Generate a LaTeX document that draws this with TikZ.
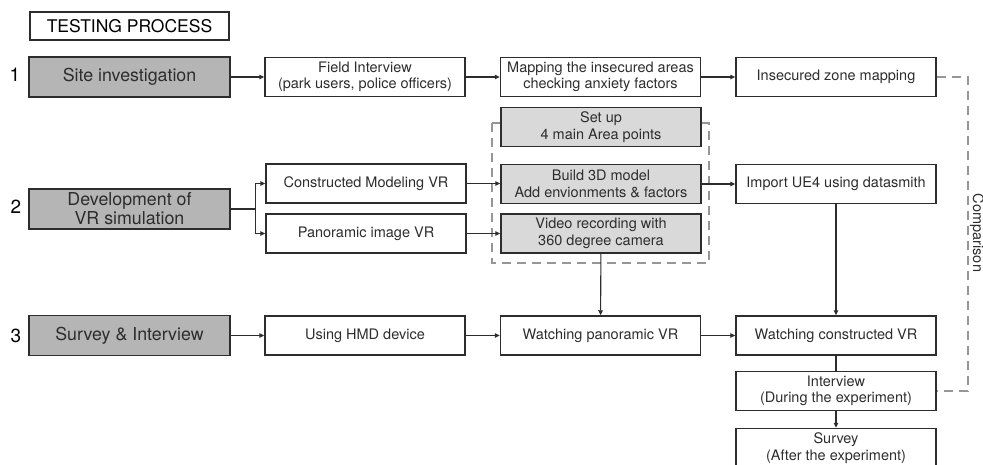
\documentclass[tikz,border=0pt]{standalone}
\usepackage{fontspec}
\setmainfont{TeX Gyre Heros}
\usetikzlibrary{positioning,arrows.meta}

\definecolor{stepgray}{RGB}{181,181,181}
\definecolor{subgray}{RGB}{217,217,217}
\definecolor{inkgray}{RGB}{45,45,45}
\definecolor{dashgray}{RGB}{150,150,150}

\tikzset{
  box/.style={draw=inkgray, line width=1.5pt, minimum width=200pt, minimum height=39pt,
    inner sep=0pt, align=center, text=inkgray, font=\fontsize{14.5}{16.5}\selectfont},
  mainbox/.style={box, fill=stepgray, minimum width=201pt, minimum height=40pt,
    font=\fontsize{17.8}{19}\selectfont},
  subbox/.style={box, fill=subgray},
  num/.style={font=\fontsize{19}{19}\selectfont, text=black},
  link/.style={->, line width=1.1pt, draw=inkgray},
  plain/.style={line width=1.1pt, draw=inkgray},
  cmp/.style={draw=dashgray, line width=1.4pt, dash pattern=on 9pt off 6pt}
}

\begin{document}
\begin{tikzpicture}[x=1pt,y=-1pt,node distance=235.5pt,>={Triangle[length=5pt,width=4.5pt]}]
    \useasboundingbox (0,0) rectangle (983,464);

    % Title
    \node[draw=inkgray, line width=1.3pt, minimum width=199pt, minimum height=28pt, inner sep=0pt,
      font=\fontsize{17.5}{17.5}\selectfont] (title) at (129.5,26) {TESTING PROCESS};

    % Step 1
    \node[num] (n1) at (15,75) {1};
    \node[mainbox] (site) at (129.5,77) {Site investigation};
    \node[box,right of=site] (field) {Field Interview\\(park users, police officers)};
    \node[box,right of=field] (mapping) {Mapping the insecured areas\\checking anxiety factors};
    \node[box,right of=mapping] (zone) {Insecured zone mapping};

    % Step 2
    \node[num] (n2) at (16,207) {2};
    \node[mainbox] (dev) at (129.5,209) {Development of\\VR simulation};
    \node[box] (model) at (366,183.5) {Constructed Modeling VR};
    \node[box] (pano) at (366,233.5) {Panoramic image VR};
    \draw[cmp] (492,123) rectangle (709,263);
    \node[subbox] (setup) at (601,127) {Set up\\4 main Area points};
    \node[subbox] (build) at (601,184) {Build 3D model\\Add envionments \& factors};
    \node[subbox] (video) at (601,233.5) {Video recording with\\360 degree camera};
    \node[box] (ue4) at (836,184) {Import UE4 using datasmith};

    % Step 3
    \node[num] (n3) at (16,336) {3};
    \node[mainbox] (survey) at (129.5,335.5) {Survey \& Interview};
    \node[box,right of=survey] (hmd) {Using HMD device};
    \node[box,right of=hmd] (wpano) {Watching panoramic VR};
    \node[box,right of=wpano] (wcons) {Watching constructed VR};
    \node[box,below=15pt of wcons] (intv) {Interview\\(During the experiment)};
    \node[box,below=16.5pt of intv] (after) {Survey\\(After the experiment)};

    % connectors
    \draw[link] (site) -- (field);
    \draw[link] (field) -- (mapping);
    \draw[link] (mapping) -- (zone);

    \coordinate[right=25pt of dev] (fork);
    \draw[plain] (dev) -- (fork);
    \draw[link] (fork) |- (model);
    \draw[link] (fork) |- (pano);
    \draw[link] (model.east) -- (model.east -| build.west);
    \draw[link] (pano) -- (video);
    \draw[link] (build) -- (ue4);
    \draw[link] (ue4.south) -- (ue4.south |- wcons.north);
    \draw[link] (video) -- (wpano);

    \draw[link] (survey) -- (hmd);
    \draw[link] (hmd) -- (wpano);
    \draw[link] (wpano) -- (wcons);
    \draw[plain] (wcons) -- (intv);
    \draw[link] (intv) -- (after);

    % comparison
    \coordinate (cmpr) at (968,77);
    \draw[cmp] (zone.east) -- (zone.east -| cmpr) -- (intv.east -| cmpr) -- (intv.east);
    \node[rotate=-90, text=inkgray, font=\fontsize{14.5}{14.5}\selectfont] (cmplabel) at (977,233) {Comparison};
\end{tikzpicture}
\end{document}
